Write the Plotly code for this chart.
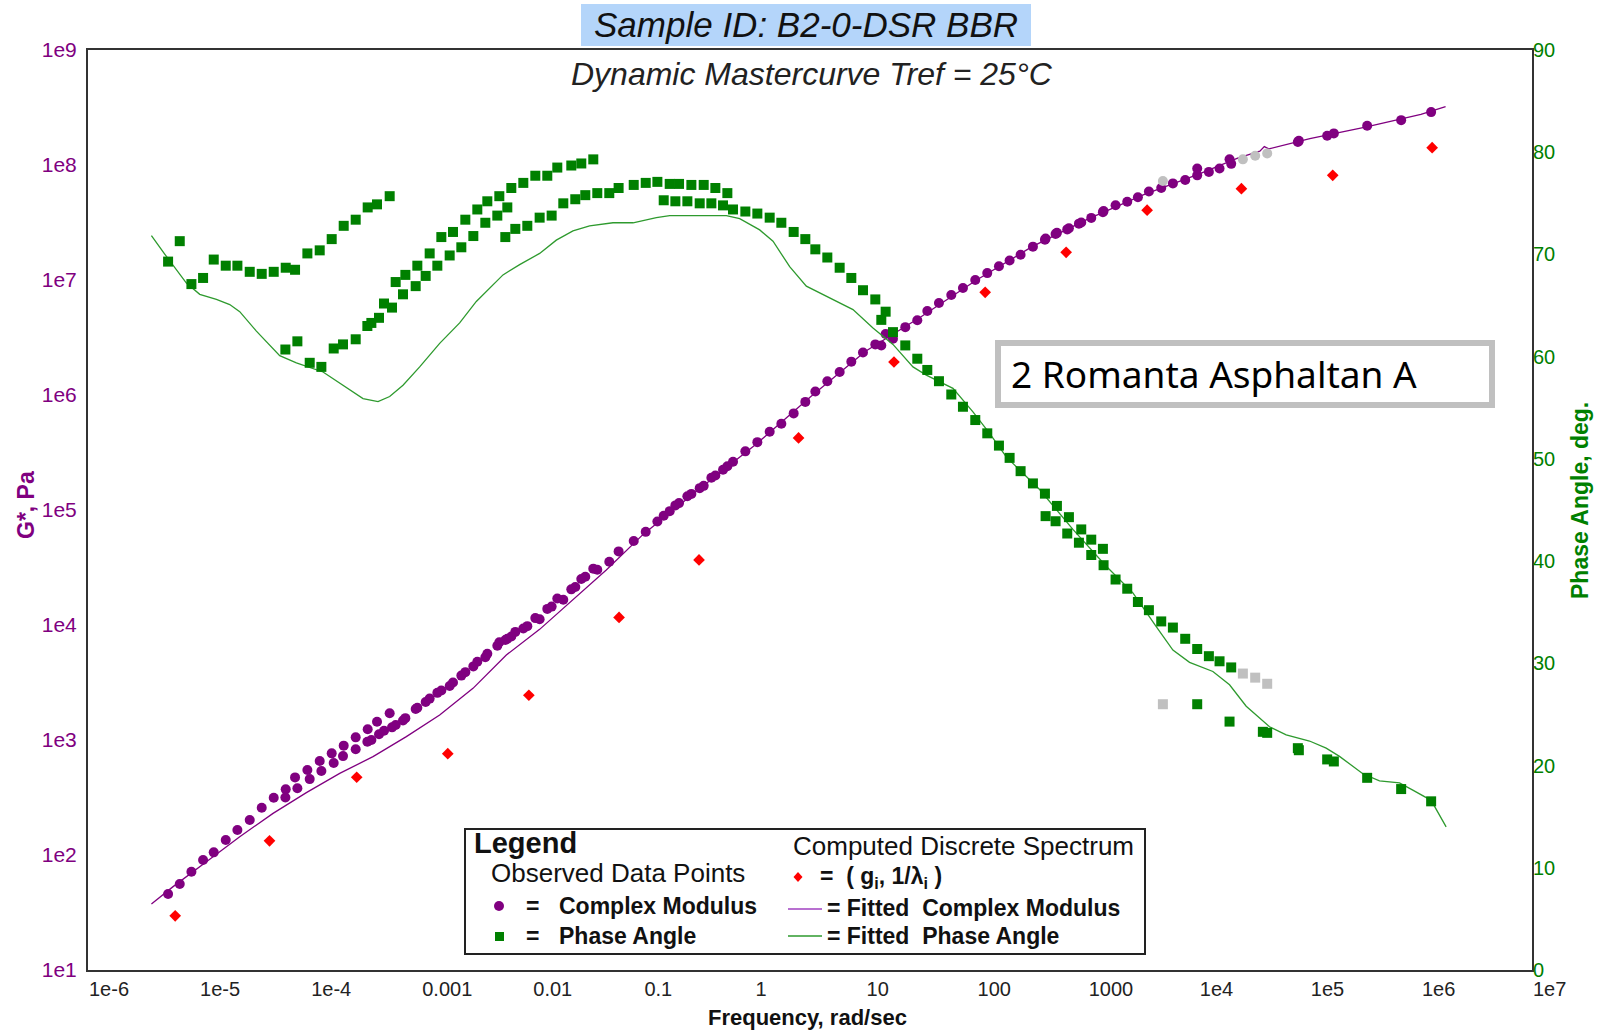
import numpy as np
import plotly.graph_objects as go

# ---------------- data ----------------
# observed complex modulus: log10(frequency rad/s), log10(G* Pa)
gstar_logfreq = [-5.279, -5.174, -5.069, -4.964, -4.868, -4.760, -4.655, -4.544, -4.436, -4.328,
                 -4.220, -4.136, -4.025, -3.914, -3.806, -3.698, -3.590, -3.482, -3.398, -3.284,
                 -4.223, -4.115, -4.004, -3.899, -3.788, -3.704, -3.590, -3.485, -3.449, -3.380,
                 -3.335, -3.263, -3.230, -3.164, -3.143, -3.050, -3.035, -2.960, -2.924, -2.855,
                 -2.819, -2.744, -2.714, -2.639, -2.603, -2.531, -2.495, -2.423, -2.405, -2.315,
                 -2.297, -2.225, -2.189, -2.243, -2.153, -2.081, -2.045, -1.973, -1.934, -1.865,
                 -1.826, -1.775, -1.721, -1.649, -1.613, -1.559, -1.523, -1.451, -1.415, -1.307,
                 -1.223, -1.087, -0.979, -0.874, -0.763, -0.679, -0.568, -0.457, -0.352, -0.244,
                 -0.817, -0.712, -0.604, -0.493, -0.388, -0.283, -0.193, -0.082, 0.026, 0.137,
                 0.242, 0.353, 0.458, 0.548, 0.656, 0.767, 0.872, 0.977, 1.088, 1.181,
                 1.142, 1.247, 1.358, 1.466, 1.556, 1.661, 1.772, 1.877, 1.988, 2.096,
                 2.201, 2.297, 2.396, 2.507, 2.615, 2.723, 2.621, 2.711, 2.831, 2.816,
                 2.942, 2.921, 3.032, 3.137, 3.143, 3.251, 3.356, 3.452, 3.551, 3.662,
                 3.767, 3.878, 3.986, 4.091, 4.187, 4.292, 3.986, 4.277, 4.892, 4.901,
                 5.156, 5.216, 5.516, 5.822, 6.092]
gstar_log = [1.661, 1.748, 1.855, 1.956, 2.023, 2.130, 2.217, 2.304, 2.411, 2.498,
             2.571, 2.675, 2.739, 2.817, 2.884, 2.951, 3.023, 3.093, 3.159, 3.232,
             2.50, 2.58, 2.66, 2.73, 2.80, 2.86, 2.92, 2.985, 3.00, 3.05,
             3.08, 3.11, 3.13, 3.17, 3.19, 3.27, 3.28, 3.33, 3.36, 3.41,
             3.43, 3.47, 3.50, 3.56, 3.59, 3.64, 3.68, 3.72, 3.75, 3.82,
             3.85, 3.88, 3.90, 3.87, 3.94, 3.97, 3.99, 4.06, 4.05, 4.14,
             4.16, 4.23, 4.22, 4.31, 4.33, 4.40, 4.42, 4.49, 4.48, 4.55,
             4.64, 4.73, 4.81, 4.90, 4.99, 5.06, 5.14, 5.21, 5.30, 5.38,
             4.95, 5.04, 5.12, 5.19, 5.28, 5.35, 5.42, 5.51, 5.59, 5.68,
             5.75, 5.84, 5.94, 6.03, 6.12, 6.20, 6.29, 6.37, 6.44, 6.53,
             6.43, 6.49, 6.59, 6.65, 6.73, 6.80, 6.87, 6.93, 7.00, 7.06,
             7.12, 7.17, 7.22, 7.29, 7.35, 7.41, 7.36, 7.40, 7.45, 7.44,
             7.50, 7.49, 7.54, 7.59, 7.60, 7.65, 7.68, 7.72, 7.77, 7.80,
             7.84, 7.87, 7.91, 7.94, 7.97, 8.01, 7.97, 8.05, 8.20, 8.21,
             8.255, 8.275, 8.342, 8.39, 8.46]

# observed phase angle: log10(frequency), degrees
phase_logfreq = [-5.279, -5.174, -5.069, -4.964, -4.868, -4.760, -4.655, -4.544, -4.436, -4.328,
                 -4.220, -4.136, -4.025, -3.914, -3.806, -3.698, -3.590, -3.482, -3.398, -3.284,
                 -4.223, -4.115, -4.004, -3.899, -3.788, -3.704, -3.590, -3.485, -3.449, -3.380,
                 -3.335, -3.263, -3.230, -3.164, -3.143, -3.050, -3.035, -2.960, -2.924, -2.855,
                 -2.819, -2.744, -2.714, -2.639, -2.603, -2.531, -2.495, -2.423, -2.405, -2.315,
                 -2.297, -2.225, -2.189, -2.243, -2.153, -2.081, -2.045, -1.973, -1.934, -1.865,
                 -1.826, -1.775, -1.721, -1.649, -1.613, -1.559, -1.523, -1.451, -1.415, -1.307,
                 -1.223, -1.087, -0.979, -0.874, -0.763, -0.679, -0.568, -0.457, -0.352, -0.244,
                 -0.817, -0.712, -0.604, -0.493, -0.388, -0.283, -0.193, -0.082, 0.026, 0.137,
                 0.242, 0.353, 0.458, 0.548, 0.656, 0.767, 0.872, 0.977, 1.088, 1.181,
                 1.142, 1.247, 1.358, 1.466, 1.556, 1.661, 1.772, 1.877, 1.988, 2.096,
                 2.201, 2.297, 2.396, 2.507, 2.615, 2.723, 2.621, 2.711, 2.831, 2.816,
                 2.942, 2.921, 3.032, 3.032, 3.137, 3.143, 3.251, 3.356, 3.452, 3.551,
                 3.662, 3.767, 3.878, 3.986, 4.091, 4.187, 4.292, 3.986, 4.277, 4.577,
                 4.616, 4.892, 4.901, 5.156, 5.216, 5.516, 5.822, 6.092]
phase_deg = [69.3, 71.3, 67.1, 67.7, 69.5, 68.9, 68.9, 68.3, 68.1, 68.3,
             68.7, 68.5, 70.1, 70.4, 71.5, 72.8, 73.4, 74.6, 74.9, 75.7,
             60.7, 61.5, 59.4, 59.0, 60.8, 61.2, 61.7, 63.0, 63.3, 63.8,
             65.2, 64.8, 67.3, 66.1, 68.0, 66.9, 68.9, 67.9, 70.1, 68.9,
             71.7, 69.9, 72.2, 70.7, 73.4, 71.8, 74.4, 73.1, 75.2, 73.8,
             75.7, 74.6, 76.5, 71.7, 72.5, 77.0, 72.8, 77.7, 73.6, 77.7,
             73.8, 78.5, 75.0, 78.7, 75.4, 78.9, 75.8, 79.3, 76.0, 76.0,
             76.5, 76.8, 77.0, 77.1, 76.9, 76.9, 76.8, 76.8, 76.5, 76.0,
             75.3, 75.2, 75.2, 75.0, 75.0, 74.8, 74.4, 74.2, 74.0, 73.6,
             73.1, 72.2, 71.5, 70.5, 69.7, 68.7, 67.7, 66.5, 65.6, 64.4,
             63.6, 62.4, 61.1, 59.8, 58.7, 57.6, 56.3, 55.1, 53.8, 52.5,
             51.3, 50.1, 48.8, 47.6, 46.6, 45.4, 44.4, 43.9, 44.3, 42.7,
             43.1, 41.8, 42.1, 40.6, 41.2, 39.6, 38.2, 37.3, 36.0, 35.2,
             34.1, 33.5, 32.4, 31.4, 30.7, 30.2, 29.6, 26.0, 24.3, 23.3,
             23.2, 21.7, 21.5, 20.6, 20.4, 18.8, 17.7, 16.5]

# excluded (grey) observations
excl_logfreq = [3.677, 4.397, 4.508, 4.616]
excl_gstar_log = [7.861, 8.049, 8.081, 8.101]
excl_phase_deg = [26.0, 29.0, 28.6, 28.0]

# computed discrete spectrum (g_i, 1/lambda_i)
spec_logfreq = [-5.215, -4.366, -3.581, -2.761, -2.031, -1.219, -0.499, 0.397, 1.256,
                2.077, 2.806, 3.535, 4.384, 5.206, 6.101]
spec_log_g = [1.471, 2.123, 2.676, 2.881, 3.389, 4.066, 4.566, 5.627, 6.287,
              6.893, 7.241, 7.607, 7.794, 7.910, 8.151]

# fitted complex modulus curve
fitg_logfreq = [-5.429, -5.234, -4.934, -4.634, -4.334, -4.034, -3.734, -3.434, -3.134, -2.834,
                -2.534, -2.234, -1.934, -1.634, -1.334, -1.0, -0.5, 0.0, 0.5, 1.0,
                1.5, 2.0, 2.5, 3.0, 3.5, 4.0, 4.35, 4.55, 4.59, 4.63, 5.0, 5.5, 6.0, 6.222]
fitg_log = [1.574, 1.725, 1.942, 2.159, 2.362, 2.542, 2.710, 2.855, 3.029, 3.217,
            3.449, 3.739, 3.962, 4.217, 4.478, 4.79, 5.18, 5.56, 5.98, 6.38,
            6.68, 7.00, 7.29, 7.53, 7.74, 7.92, 8.06, 8.12, 8.16, 8.14, 8.23, 8.33, 8.44, 8.507]

# fitted phase angle curve
fitp_logfreq = [-5.429, -5.294, -5.114, -4.994, -4.844, -4.724, -4.634, -4.484, -4.274, -4.124,
                -3.884, -3.734, -3.524, -3.389, -3.284, -3.164, -3.014, -2.834, -2.654, -2.504,
                -2.264, -2.114, -1.934, -1.784, -1.634, -1.484, -1.274, -1.093, -0.883, -0.763,
                -0.253, -0.133, 0.047, 0.167, 0.317, 0.467, 0.647, 0.887, 1.067, 1.247,
                1.427, 1.547, 1.787, 1.967, 2.117, 2.267, 2.567, 2.867, 3.167, 3.407,
                3.617, 3.767, 3.917, 4.127, 4.277, 4.427, 4.637, 4.787, 4.997, 5.147,
                5.267, 5.477, 5.627, 5.807, 5.927, 6.092, 6.227]
fitp_deg = [71.85, 69.8, 67.2, 66.1, 65.6, 65.1, 64.4, 62.5, 60.1, 59.4,
            58.5, 57.4, 55.9, 55.6, 56.1, 57.2, 59.0, 61.3, 63.3, 65.4,
            68.0, 69.0, 70.1, 71.4, 72.3, 72.8, 73.1, 73.1, 73.6, 73.8,
            73.8, 73.5, 72.4, 71.3, 68.8, 66.9, 65.9, 64.6, 62.8, 61.2,
            59.0, 58.2, 56.9, 54.6, 52.5, 50.2, 47.0, 43.1, 39.5, 36.9,
            33.6, 31.3, 30.1, 29.2, 27.9, 25.8, 23.8, 23.0, 22.4, 21.7,
            20.9, 19.2, 18.5, 18.3, 17.6, 16.6, 14.0]

x_tick_exps = list(range(-6, 8))
x_tick_text = ["1e-6", "1e-5", "1e-4", "0.001", "0.01", "0.1", "1", "10", "100", "1000",
               "1e4", "1e5", "1e6", "1e7"]
y_tick_exps = list(range(1, 10))
y_tick_text = ["1e1", "1e2", "1e3", "1e4", "1e5", "1e6", "1e7", "1e8", "1e9"]
y2_ticks = [0, 10, 20, 30, 40, 50, 60, 70, 80, 90]

title_text = "Sample ID: B2-0-DSR BBR"
subtitle_text = "Dynamic Mastercurve Tref = 25°C"
sample_label = "2 Romanta Asphaltan A"

# ---------------- styling ----------------
PURPLE = "#800080"
GREEN = "#008000"
FITGREEN = "#2e9a2e"
RED = "#ff0000"
GREY = "#c0c0c0"
FONT = "Liberation Sans, Arial, sans-serif"

W, H = 1608, 1031
L, R, T, B = 88, 1532, 50, 970  # plot area in page pixels


def px(x):
    return (x - L) / (R - L)


def py(y):
    return (B - y) / (B - T)


def p10(v):
    return np.power(10.0, np.array(v, dtype=float))


fig = go.Figure()

fig.add_trace(go.Scatter(x=p10(fitg_logfreq), y=p10(fitg_log), mode="lines",
                         line=dict(color=PURPLE, width=1.3), yaxis="y", showlegend=False))
fig.add_trace(go.Scatter(x=p10(fitp_logfreq), y=fitp_deg, mode="lines",
                         line=dict(color=FITGREEN, width=1.3), yaxis="y2", showlegend=False))
fig.add_trace(go.Scatter(x=p10(spec_logfreq), y=p10(spec_log_g), mode="markers",
                         marker=dict(symbol="diamond", size=9, color=RED), yaxis="y",
                         showlegend=False))
fig.add_trace(go.Scatter(x=p10(gstar_logfreq), y=p10(gstar_log), mode="markers",
                         marker=dict(symbol="circle", size=10, color=PURPLE), yaxis="y",
                         showlegend=False))
fig.add_trace(go.Scatter(x=p10(excl_logfreq), y=p10(excl_gstar_log), mode="markers",
                         marker=dict(symbol="circle", size=10, color=GREY), yaxis="y",
                         showlegend=False))
fig.add_trace(go.Scatter(x=p10(phase_logfreq), y=phase_deg, mode="markers",
                         marker=dict(symbol="square", size=10, color=GREEN), yaxis="y2",
                         showlegend=False))
fig.add_trace(go.Scatter(x=p10(excl_logfreq), y=excl_phase_deg, mode="markers",
                         marker=dict(symbol="square", size=10, color=GREY), yaxis="y2",
                         showlegend=False))

shapes = []
annotations = []

# title box
shapes.append(dict(type="rect", xref="paper", yref="paper", x0=px(581), x1=px(1031),
                   y0=py(46), y1=py(4), fillcolor="#b4d5fa", line=dict(width=0), layer="below"))
annotations.append(dict(text="<i>" + title_text + "</i>", x=px(806), y=py(25), xref="paper",
                        yref="paper", showarrow=False, xanchor="center", yanchor="middle",
                        font=dict(family=FONT, size=35, color="#111")))
annotations.append(dict(text="<i>" + subtitle_text + "</i>", x=px(812), y=py(74), xref="paper",
                        yref="paper", showarrow=False, xanchor="center", yanchor="middle",
                        font=dict(family=FONT, size=32, color="#222")))

# sample label box
shapes.append(dict(type="rect", xref="paper", yref="paper", x0=px(998), x1=px(1492),
                   y0=py(405), y1=py(343), fillcolor="white", line=dict(color=GREY, width=6)))
annotations.append(dict(text=sample_label, x=px(1009), y=py(374), xref="paper", yref="paper",
                        showarrow=False, xanchor="left", yanchor="middle",
                        font=dict(family="Noto Sans, DejaVu Sans, sans-serif", size=37,
                                  color="black")))

# legend box
shapes.append(dict(type="rect", xref="paper", yref="paper", x0=px(465), x1=px(1145),
                   y0=py(954), y1=py(829), fillcolor="white", line=dict(color="#222", width=2)))


def ann(text, x, y, size, bold=False, anchor="left", color="#111"):
    annotations.append(dict(text=("<b>" + text + "</b>") if bold else text, x=px(x), y=py(y),
                            xref="paper", yref="paper", showarrow=False, xanchor=anchor,
                            yanchor="middle", font=dict(family=FONT, size=size, color=color)))


ann("Legend", 472, 843, 29, bold=True)
ann("Observed Data Points", 489, 873, 26)
ann("=", 532, 906, 23, bold=True, anchor="center")
ann("Complex Modulus", 557, 906, 23, bold=True)
ann("=", 532, 936, 23, bold=True, anchor="center")
ann("Phase Angle", 557, 936, 23, bold=True)
ann("Computed Discrete Spectrum", 791, 846, 26)
ann("=  ( g<sub>i</sub>, 1/λ<sub>i</sub> )", 818, 877, 23, bold=True)
ann("= Fitted  Complex Modulus", 825, 908, 23, bold=True)
ann("= Fitted  Phase Angle", 825, 936, 23, bold=True)

# legend symbols
shapes.append(dict(type="circle", xref="paper", yref="paper", x0=px(494), x1=px(504),
                   y0=py(911), y1=py(901), fillcolor=PURPLE, line=dict(width=0)))
shapes.append(dict(type="rect", xref="paper", yref="paper", x0=px(495), x1=px(504),
                   y0=py(941), y1=py(932), fillcolor=GREEN, line=dict(width=0)))
dx0, dy0 = 798, 877
shapes.append(dict(type="path", xref="paper", yref="paper",
                   path=f"M {px(dx0-4.5)},{py(dy0)} L {px(dx0)},{py(dy0-5)} L {px(dx0+4.5)},{py(dy0)} L {px(dx0)},{py(dy0+5)} Z",
                   fillcolor=RED, line=dict(width=0)))
shapes.append(dict(type="line", xref="paper", yref="paper", x0=px(788), x1=px(822),
                   y0=py(909), y1=py(909), line=dict(color="#a040c0", width=1.5)))
shapes.append(dict(type="line", xref="paper", yref="paper", x0=px(788), x1=px(822),
                   y0=py(936), y1=py(936), line=dict(color=FITGREEN, width=1.5)))

# axis titles
annotations.append(dict(text="<b>G*, Pa</b>", x=px(26), y=py(505), xref="paper", yref="paper",
                        showarrow=False, textangle=-90, xanchor="center", yanchor="middle",
                        font=dict(family=FONT, size=23, color=PURPLE)))
annotations.append(dict(text="<b>Phase Angle, deg.</b>", x=px(1580), y=py(500), xref="paper",
                        yref="paper", showarrow=False, textangle=-90, xanchor="center",
                        yanchor="middle", font=dict(family=FONT, size=23, color=GREEN)))
annotations.append(dict(text="<b>Frequency, rad/sec</b>", x=px(807), y=py(1017), xref="paper",
                        yref="paper", showarrow=False, xanchor="center", yanchor="middle",
                        font=dict(family=FONT, size=22, color="#111")))

fig.update_layout(
    width=W, height=H, autosize=False,
    margin=dict(l=L, r=W - R, t=T, b=H - B, pad=0),
    paper_bgcolor="white", plot_bgcolor="white",
    showlegend=False,
    shapes=shapes, annotations=annotations,
    xaxis=dict(type="log", range=[-6, 7], tickvals=p10(x_tick_exps), ticktext=x_tick_text,
               ticks="", ticklabelposition="outside right", showgrid=False, zeroline=False,
               showline=True, mirror=True, linecolor="#333", linewidth=2,
               tickfont=dict(family=FONT, size=20, color="#222")),
    yaxis=dict(type="log", range=[1, 9], tickvals=p10(y_tick_exps), ticktext=y_tick_text,
               ticks="", ticklabelstandoff=5, showgrid=False, zeroline=False, showline=True,
               mirror=True, linecolor="#333", linewidth=2,
               tickfont=dict(family=FONT, size=21, color=PURPLE)),
    yaxis2=dict(overlaying="y", side="right", range=[0, 90], tickvals=y2_ticks, ticks="",
                showgrid=False, zeroline=False, showline=False,
                tickfont=dict(family=FONT, size=20, color=GREEN)),
)

fig.write_html("out.html",
               config={"displayModeBar": False},
               post_script="document.body.style.margin='0px';"
                           "document.body.style.overflow='hidden';")
